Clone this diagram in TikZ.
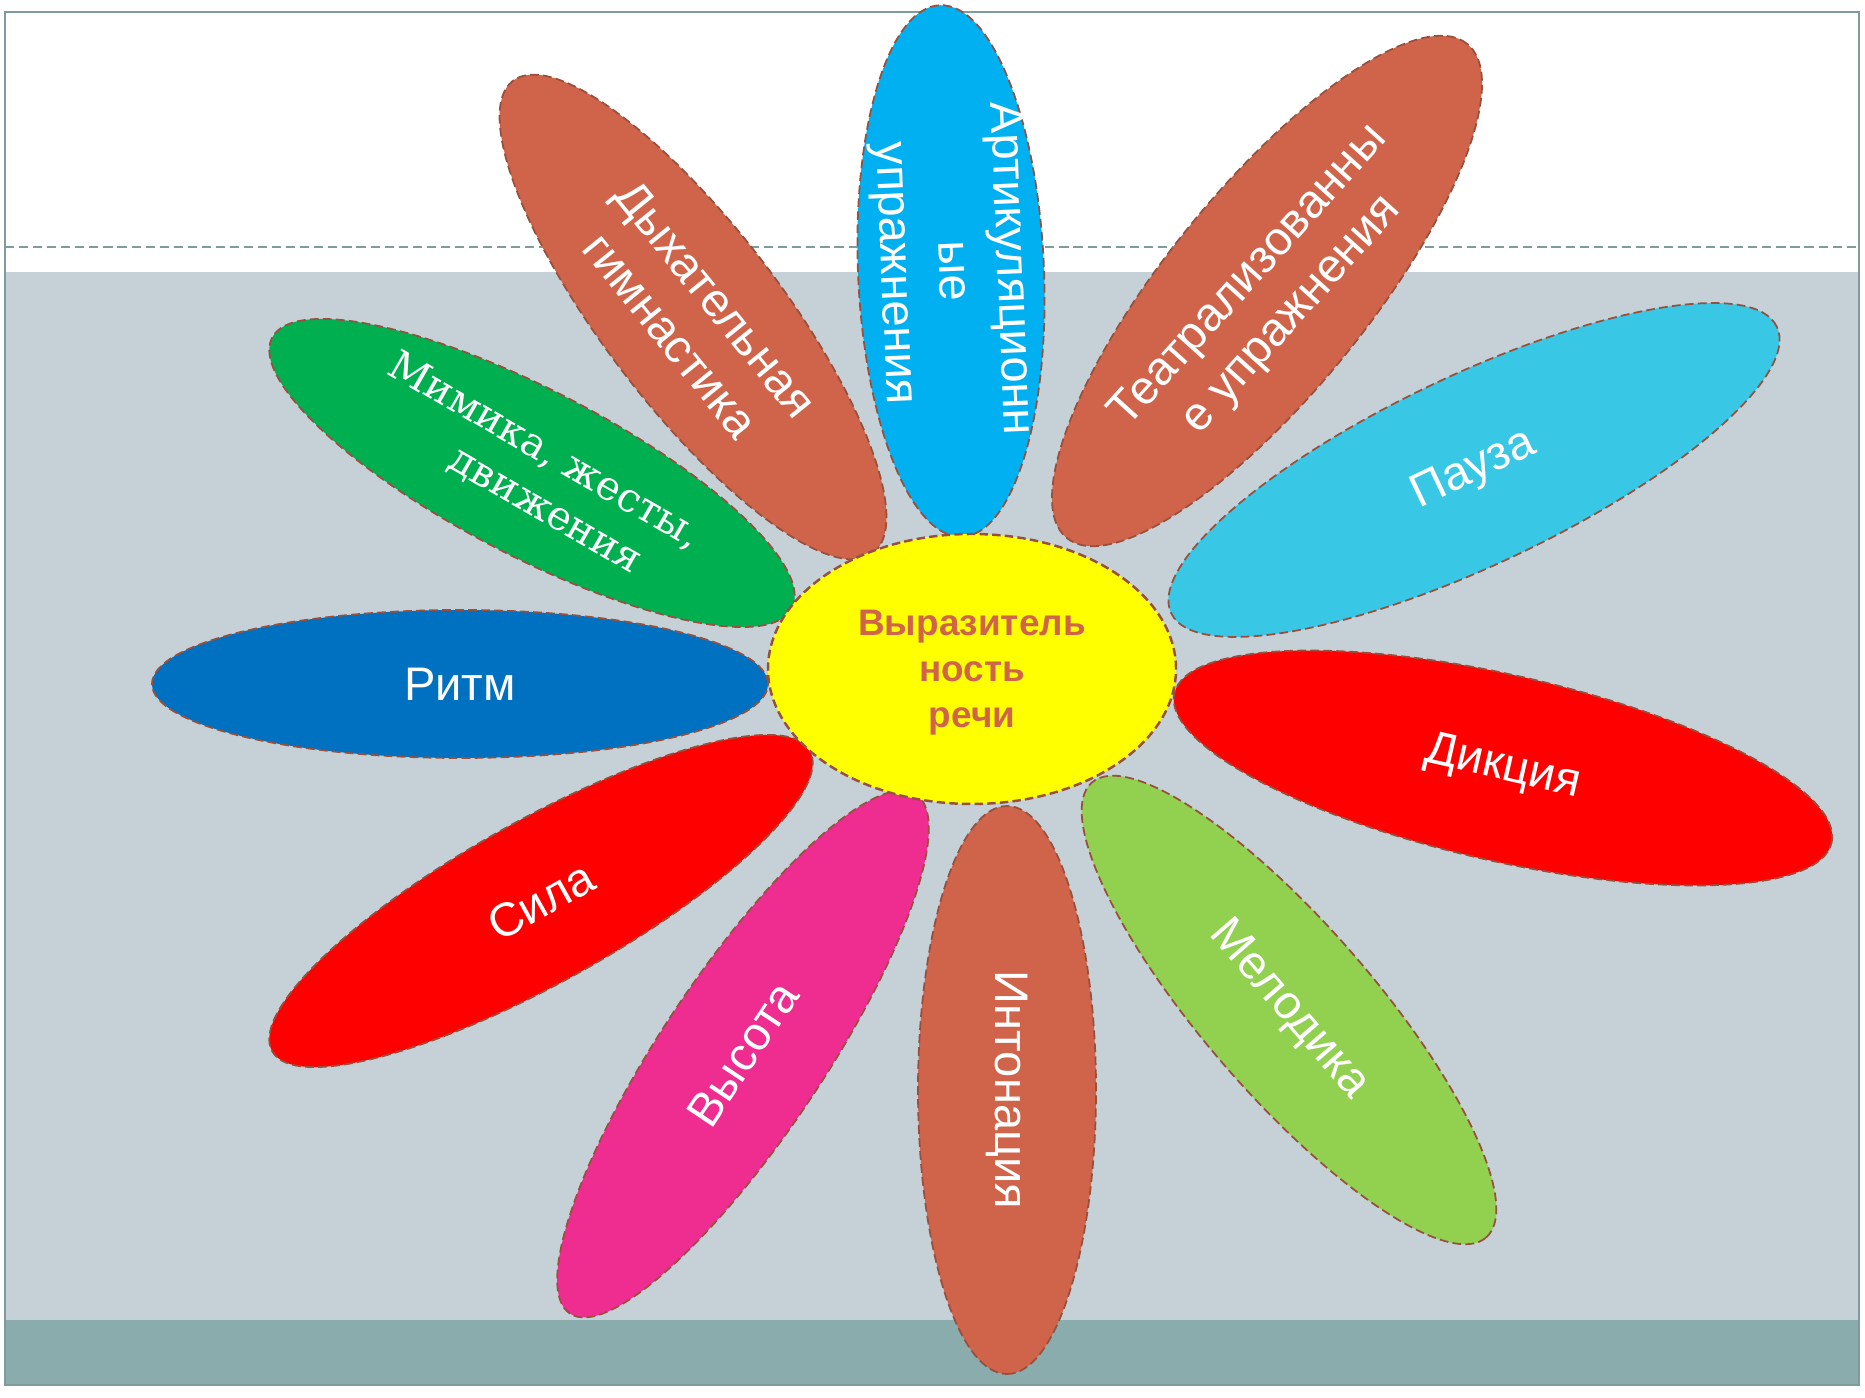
\documentclass[tikz,border=0pt]{standalone}
\usepackage{fontspec}
\setmainfont{Liberation Sans}
\newfontfamily\serifcyr{DejaVu Serif}
\usetikzlibrary{shapes.geometric}

\definecolor{bgblue}{HTML}{C5D1D7}
\definecolor{bandgray}{HTML}{8AACAD}
\definecolor{framegray}{HTML}{809B9B}
\definecolor{petalline}{HTML}{97503D}
\definecolor{brick}{HTML}{D0644A}
\definecolor{skyblue}{HTML}{00B0F0}
\definecolor{grassgreen}{HTML}{00B050}
\definecolor{deepblue}{HTML}{0070C0}
\definecolor{rosepink}{HTML}{EF2D90}
\definecolor{limegreen}{HTML}{92D050}
\definecolor{aqua}{HTML}{38C8E6}
\definecolor{sunyellow}{HTML}{FFFF00}

\tikzset{
  petal/.style={ellipse, draw=petalline, line width=0.5pt, dash pattern=on 2.5pt off 1.2pt, inner sep=0pt},
  ptext/.style={text=white, align=center, font=\fontsize{13.4pt}{16.5pt}\selectfont}
}

\begin{document}
\begin{tikzpicture}
\useasboundingbox (0,0) rectangle (18.65,13.97);

\fill [white] (0.05,11.25) rectangle (18.59,13.85);
\fill [bgblue] (0.05,0.77) rectangle (18.59,11.25);
\fill [bandgray] (0.05,0.12) rectangle (18.59,0.77);
\draw [framegray, line width=0.6pt, dash pattern=on 2.6pt off 1.4pt] (0.05,11.50) -- (18.59,11.50);
\draw [framegray, line width=0.6pt] (0.05,0.12) rectangle (18.59,13.85);

\node [petal, fill=skyblue, minimum width=5.32cm, minimum height=1.86cm, rotate=-87.6] (p1) at (9.51,11.26) {};
\node [ptext, rotate=-87.6] (t1) at (p1) {Артикуляционн\\ые\\упражнения};
\node [petal, fill=brick, minimum width=5.94cm, minimum height=1.78cm, rotate=-52.7] (p2) at (6.93,10.80) {};
\node [ptext, rotate=-51] (t2) at (p2) {Дыхательная\\гимнастика};
\node [petal, fill=grassgreen, minimum width=5.86cm, minimum height=1.66cm, rotate=-27.5] (p3) at (5.32,9.24) {};
\node [ptext, rotate=-30, font=\serifcyr\fontsize{11.5pt}{14.5pt}\selectfont] (t3) at (p3) {Мимика, жесты,\\\hspace*{1.5em}движения};
\node [petal, fill=deepblue, minimum width=6.16cm, minimum height=1.48cm] (p4) at (4.60,7.13) {};
\node [ptext] (t4) at (p4) {Ритм};
\node [petal, fill=red, minimum width=6.16cm, minimum height=1.62cm, rotate=29.2] (p5) at (5.41,4.96) {};
\node [ptext, rotate=29.2] (t5) at (p5) {Сила};
\node [petal, fill=rosepink, minimum width=6.24cm, minimum height=1.62cm, rotate=56.3] (p6) at (7.43,3.43) {};
\node [ptext, rotate=56.3] (t6) at (p6) {Высота};
\node [petal, fill=brick, minimum width=5.68cm, minimum height=1.78cm, rotate=-90] (p7) at (10.07,3.07) {};
\node [ptext, rotate=-90] (t7) at (p7) {Интонация};
\node [petal, fill=limegreen, minimum width=6.02cm, minimum height=1.70cm, rotate=-49.1] (p8) at (12.89,3.87) {};
\node [ptext, rotate=-49.1] (t8) at (p8) {Мелодика};
\node [petal, fill=red, minimum width=6.74cm, minimum height=1.86cm, rotate=-12.8] (p9) at (15.03,6.29) {};
\node [ptext, rotate=-12.8] (t9) at (p9) {Дикция};
\node [petal, fill=aqua, minimum width=6.70cm, minimum height=1.90cm, rotate=25.3] (p10) at (14.74,9.27) {};
\node [ptext, rotate=25.3] (t10) at (p10) {Пауза};
\node [petal, fill=brick, minimum width=6.36cm, minimum height=2.02cm, rotate=51] (p11) at (12.67,11.06) {};
\node [ptext, rotate=48] (t11) at ([xshift=0.04cm, yshift=-0.05cm]p11.center) {Театрализованны\\е упражнения};

\node [ellipse, draw=petalline, line width=0.7pt, dash pattern=on 2.4pt off 1.2pt, fill=sunyellow, inner sep=0pt, minimum width=4.08cm, minimum height=2.70cm, text=brick, text depth=0pt, align=center, font=\bfseries\fontsize{10.5pt}{13pt}\selectfont] (c) at (9.72,7.28) {Выразитель\\ность\\речи};
\end{tikzpicture}
\end{document}
